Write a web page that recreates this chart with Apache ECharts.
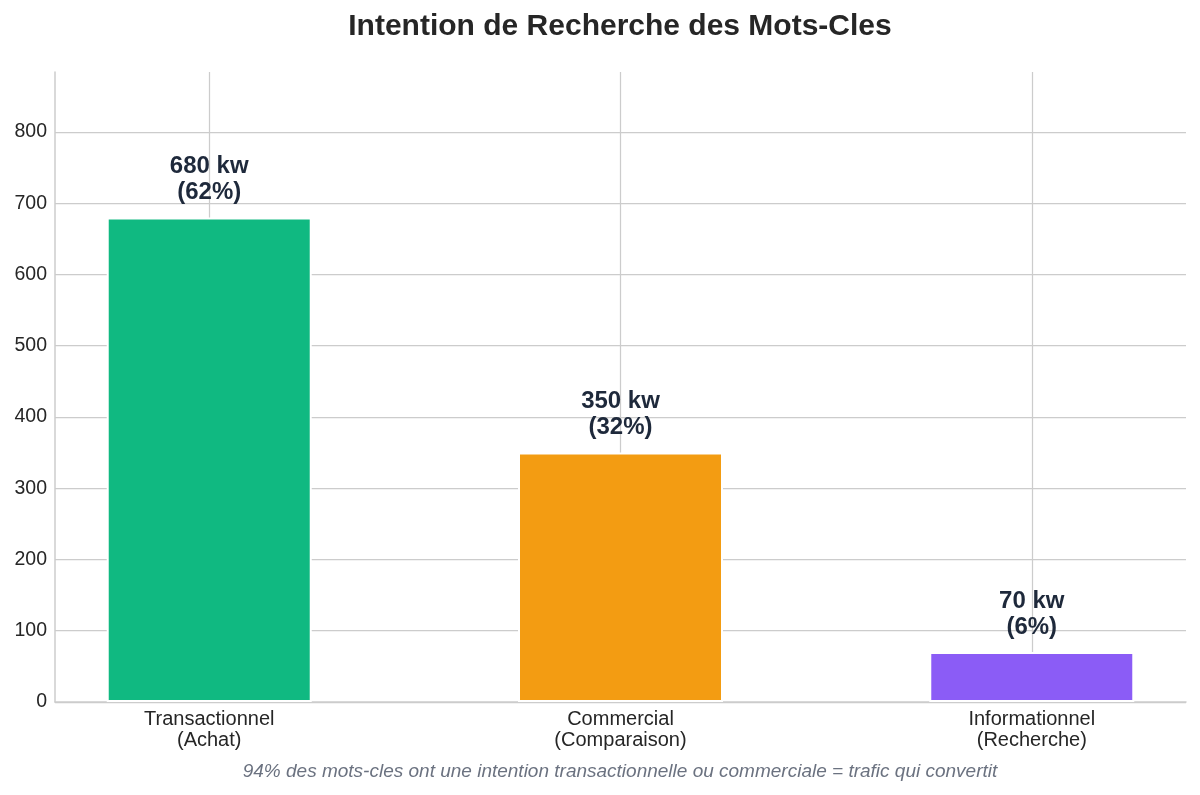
<!DOCTYPE html>
<html><head><meta charset="utf-8">
<script src="https://cdn.jsdelivr.net/npm/echarts@6/dist/echarts.min.js"></script>
<style>html,body{margin:0;padding:0;background:#fff}#c{width:1200px;height:795px}</style>
</head><body><div id="c"></div>
<script>
const chartTitle = 'Intention de Recherche des Mots-Cles';
const caption = '94% des mots-cles ont une intention transactionnelle ou commerciale = trafic qui convertit';
const categories = ['Transactionnel\n(Achat)', 'Commercial\n(Comparaison)', 'Informationnel\n(Recherche)'];
const categoryPositions = [0, 1, 2];
const keywordCounts = [680, 350, 70];
const percentages = [62, 32, 6];
const barColors = ['#10b981', '#f39c12', '#8b5cf6'];

const FONT = '"Liberation Sans", Arial, Helvetica, sans-serif';
const gridColor = '#cccccc';

const chart = echarts.init(document.getElementById('c'), null, {renderer: 'canvas'});
chart.setOption({
  backgroundColor: '#ffffff',
  animation: false,
  title: {
    text: chartTitle,
    left: 615,
    top: 7,
    textAlign: 'center',
    textStyle: {fontFamily: FONT, fontSize: 30, fontWeight: 'bold', color: '#262626'}
  },
  grid: {left: 55, right: 14, top: 72, bottom: 93, containLabel: false},
  xAxis: {
    type: 'value',
    min: -0.375,
    max: 2.375,
    axisLine: {show: true, onZero: false, lineStyle: {color: gridColor, width: 1.5}},
    axisTick: {show: false, customValues: categoryPositions},
    axisLabel: {
      customValues: categoryPositions,
      formatter: v => categories[Math.round(v)] || '',
      fontFamily: FONT, fontSize: 20, lineHeight: 21, color: '#262626', margin: 7
    },
    splitLine: {show: true, lineStyle: {color: gridColor, width: 1.25}}
  },
  yAxis: {
    type: 'value',
    min: 0,
    max: 884,
    interval: 100,
    axisLine: {show: true, onZero: false, lineStyle: {color: gridColor, width: 1.5}},
    axisTick: {show: false},
    axisLabel: {showMaxLabel: false, fontFamily: FONT, fontSize: 19.5, color: '#262626', margin: 8},
    splitLine: {show: true, showMaxLine: false, lineStyle: {color: gridColor, width: 1.25}}
  },
  series: [{
    type: 'bar',
    barWidth: 205,
    data: keywordCounts.map((v, i) => ({
      value: [categoryPositions[i], v],
      itemStyle: {color: barColors[i]}
    })),
    itemStyle: {borderColor: '#ffffff', borderWidth: 2},
    label: {
      show: true,
      position: 'top',
      distance: 12,
      formatter: p => keywordCounts[p.dataIndex] + ' kw\n(' + percentages[p.dataIndex] + '%)',
      fontFamily: FONT, fontSize: 24, fontWeight: 'bold', lineHeight: 26, color: '#1e293b'
    }
  }],
  graphic: [{
    type: 'text',
    style: {
      text: caption,
      x: 620, y: 772,
      textAlign: 'center', textVerticalAlign: 'middle',
      font: 'italic 19px ' + FONT,
      fill: '#6b7280'
    }
  }]
});
</script></body></html>
